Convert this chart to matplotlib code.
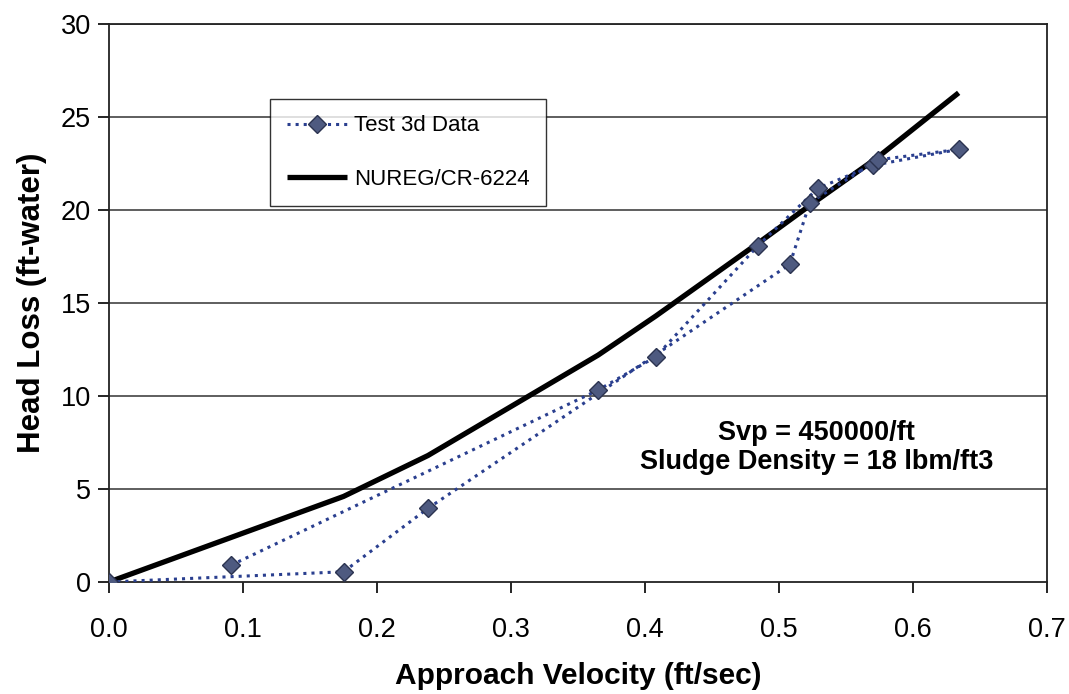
import matplotlib
matplotlib.use('Agg')
import matplotlib.pyplot as plt

plt.rcParams['font.family'] = ['Liberation Sans', 'DejaVu Sans']

# Test 3d data, in the order the points are joined
test_vel = [0.091, 0.365, 0.408, 0.484, 0.529, 0.570, 0.634, 0.574, 0.523, 0.508, 0.238, 0.175, 0.0]
test_loss = [0.9, 10.32, 12.11, 18.06, 21.17, 22.4, 23.26, 22.7, 20.4, 17.08, 3.96, 0.55, 0.0]

# NUREG/CR-6224 correlation
nureg_vel = [0.0, 0.175, 0.238, 0.365, 0.408, 0.484, 0.524, 0.573, 0.634]
nureg_loss = [0.0, 4.6, 6.8, 12.2, 14.3, 18.2, 20.3, 22.8, 26.3]

xticks = [0.0, 0.1, 0.2, 0.3, 0.4, 0.5, 0.6, 0.7]
yticks = [0, 5, 10, 15, 20, 25, 30]

fig = plt.figure(figsize=(10.69, 6.94), dpi=100)
ax = fig.add_axes([0.102, 0.1614, 0.8775, 0.804])

for y in yticks[1:]:
    ax.axhline(y, color='#333333', lw=1.1, zorder=1)

ax.plot(test_vel, test_loss, linestyle=':', color='#2a3f8f', lw=2.2,
        marker='D', markersize=9, markerfacecolor='#4e5a80',
        markeredgecolor='#2b3350', label='Test 3d Data', zorder=3)
ax.plot(nureg_vel, nureg_loss, color='black', lw=3.8, label='NUREG/CR-6224',
        zorder=2, solid_capstyle='butt')

ax.set_xlim(0, 0.7)
ax.set_ylim(0, 30)
ax.set_xticks(xticks)
ax.set_xticklabels(['{0:.1f}'.format(v) for v in xticks])
ax.set_yticks(yticks)
ax.tick_params(axis='x', labelsize=19.5, length=8, width=1.2, pad=17, direction='out')
ax.tick_params(axis='y', labelsize=19.5, length=8, width=1.2, pad=5, direction='out')
for s in ax.spines.values():
    s.set_linewidth(1.3)
    s.set_color('#222222')

ax.set_xlabel('Approach Velocity (ft/sec)', fontsize=21.5, fontweight='bold', labelpad=14)
ax.set_ylabel('Head Loss (ft-water)', fontsize=22.5, fontweight='bold', labelpad=10)

leg = ax.legend(loc='upper left', bbox_to_anchor=(0.172, 0.866), fontsize=16,
                frameon=True, fancybox=False, edgecolor='black', handlelength=2.7,
                borderpad=0.75, labelspacing=1.45, handletextpad=0.3,
                borderaxespad=0)
leg.get_frame().set_linewidth(1.0)

ax.text(0.528, 7.63, 'Svp = 450000/ft', fontsize=19.5, fontweight='bold',
        ha='center', va='baseline')
ax.text(0.528, 6.07, 'Sludge Density = 18 lbm/ft3', fontsize=19.5, fontweight='bold',
        ha='center', va='baseline')

fig.savefig('out.png', dpi=100)
